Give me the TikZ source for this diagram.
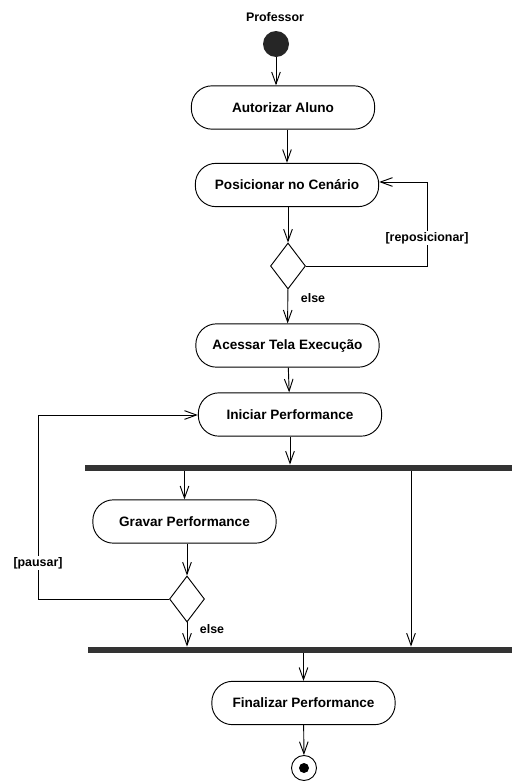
\documentclass[tikz,border=0pt]{standalone}
\usepackage{fontspec}
\setmainfont{Liberation Sans}
\usetikzlibrary{shapes.geometric,arrows.meta}
\begin{document}
\begin{tikzpicture}[x = 0.03cm, y = -0.03cm, line width = 0.8pt,
        acao/.style = {draw, rounded corners = 0.62cm, minimum height = 1.3cm, minimum width = 5.5cm, font = \fontsize{11.6}{13}\selectfont\bfseries},
        decisao/.style = {draw, diamond, minimum width = 1.05cm, minimum height = 1.38cm, inner sep = 0},
        barra/.style = {fill = black!80, minimum height = 0.18cm, inner sep = 0},
        rotulo/.style = {font = \fontsize{10.6}{12}\selectfont\bfseries},
        fluxo/.style = {-{Straight Barb[length = 3.6mm, width = 2.6mm]}}]
        \useasboundingbox (0, 0) rectangle (512, 781);
        \node[rotulo] (prof) at (275, 17) {Professor};
        \node[circle, fill = black!85, minimum size = 0.78cm, inner sep = 0] (inicio) at (276, 44) {};
        \node[acao] (autorizar) at (283, 107.5) {Autorizar Aluno};
        \node[acao] (posicionar) at (287, 185) {Posicionar no Cenário};
        \node[decisao] (dec1) at (288, 266) {};
        \node[acao] (acessar) at (287.5, 345.5) {Acessar Tela Execução};
        \node[acao] (iniciar) at (290, 414.5) {Iniciar Performance};
        \node[barra, minimum width = 12.81cm] (fork1) at (298.5, 468) {};
        \node[acao] (gravar) at (184.5, 521.5) {Gravar Performance};
        \node[decisao] (dec2) at (187, 599) {};
        \node[barra, minimum width = 12.72cm] (fork2) at (300, 650) {};
        \node[acao] (finalizar) at (303.5, 703) {Finalizar Performance};
        \node[circle, draw, minimum size = 0.75cm, inner sep = 0] (fim) at (304, 768) {};
        \node[circle, fill = black, minimum size = 0.3cm, inner sep = 0] (fimdentro) at (fim) {};

        \coordinate (volta1) at (427, 182);
        \coordinate (volta2) at (38, 415);
        \coordinate (ramo) at (411, 468);

        \draw[fluxo] (inicio) -- (inicio |- autorizar.north);
        \draw[fluxo] (posicionar |- autorizar.south) -- (posicionar);
        \draw[fluxo] (dec1 |- posicionar.south) -- (dec1);
        \draw[fluxo] (dec1.east) -| (volta1) -- (posicionar.east |- volta1);
        \draw[fluxo] (dec1) -- (acessar);
        \draw[fluxo] (acessar) -- (iniciar);
        \draw[fluxo] (iniciar) -- (iniciar |- fork1.north);
        \draw[fluxo] (gravar |- fork1.south) -- (gravar);
        \draw[fluxo] (ramo |- fork1.south) -- (ramo |- fork2.north);
        \draw[fluxo] (dec2 |- gravar.south) -- (dec2);
        \draw[fluxo] (dec2.west) -| (volta2) -- (iniciar.west |- volta2);
        \draw[fluxo] (dec2) -- (dec2 |- fork2.north);
        \draw[fluxo] (finalizar |- fork2.south) -- (finalizar);
        \draw[fluxo] (finalizar) -- (fim);

        \node[rotulo, fill = white, inner sep = 1pt] (repos) at (427, 238) {[reposicionar]};
        \node[rotulo] (senao1) at (313, 298) {else};
        \node[rotulo, fill = white, inner sep = 1pt] (pausar) at (38, 563) {[pausar]};
        \node[rotulo] (senao2) at (212, 629) {else};
    \end{tikzpicture}
\end{document}
